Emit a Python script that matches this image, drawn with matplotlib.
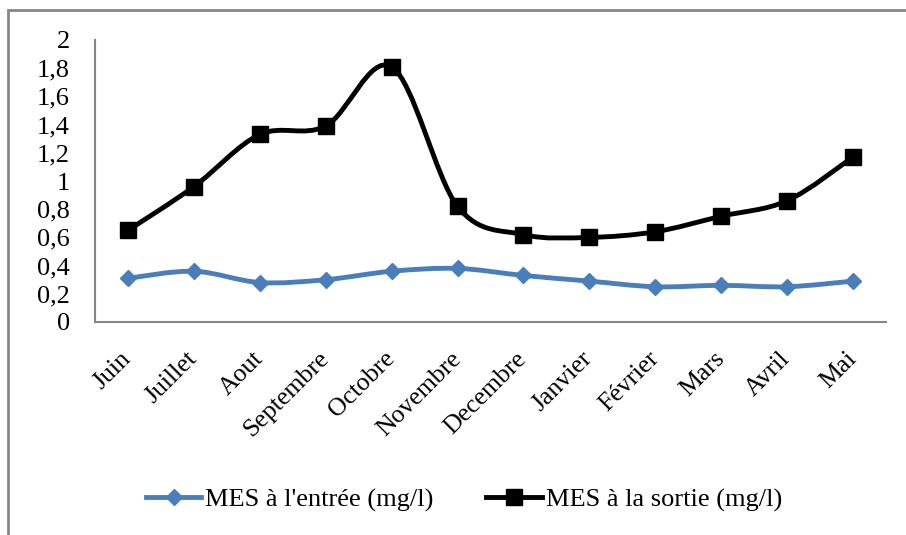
import matplotlib
matplotlib.use("Agg")
import matplotlib.pyplot as plt
from matplotlib.path import Path
from matplotlib.patches import PathPatch, Rectangle
from matplotlib.lines import Line2D

# Monthly values
months = ["Juin", "Juillet", "Aout", "Septembre", "Octobre", "Novembre",
          "Decembre", "Janvier", "Février", "Mars", "Avril", "Mai"]
mes_entree = [0.31, 0.36, 0.28, 0.30, 0.36, 0.38, 0.33, 0.29, 0.25, 0.26, 0.25, 0.29]
mes_sortie = [0.65, 0.96, 1.33, 1.39, 1.81, 0.82, 0.62, 0.60, 0.64, 0.75, 0.86, 1.17]
yticks = [0, 0.2, 0.4, 0.6, 0.8, 1, 1.2, 1.4, 1.6, 1.8, 2]

blue = "#4a7ebb"
grey = "#868686"

plt.rcParams["font.family"] = ["Liberation Serif", "DejaVu Serif"]


def smooth_path(xs, ys):
    # excel style smoothed line: bezier segments between the points
    pts = list(zip(xs, ys))
    n = len(pts)
    verts = [pts[0]]
    codes = [Path.MOVETO]
    for i in range(n - 1):
        p0 = pts[i - 1] if i > 0 else pts[i]
        p1 = pts[i]
        p2 = pts[i + 1]
        p3 = pts[i + 2] if i + 2 < n else pts[i + 1]
        c1 = (p1[0] + (p2[0] - p0[0]) / 6, p1[1] + (p2[1] - p0[1]) / 6)
        c2 = (p2[0] - (p3[0] - p1[0]) / 6, p2[1] - (p3[1] - p1[1]) / 6)
        verts += [c1, c2, p2]
        codes += [Path.CURVE4] * 3
    return Path(verts, codes)


fig = plt.figure(figsize=(9.06, 5.35), dpi=100)
ax = fig.add_axes([95 / 906, 213 / 535, 791 / 906, 282 / 535])

# chart frame (cut off on the right and bottom)
fig.patches.append(Rectangle((8 / 906, -0.1), 1.1, (525 / 535) + 0.1,
                             transform=fig.transFigure, fill=False,
                             edgecolor=grey, linewidth=2))

x = list(range(len(months)))

ax.add_patch(PathPatch(smooth_path(x, mes_entree), fill=False,
                       edgecolor=blue, linewidth=3.5, capstyle="round", zorder=3))
ax.plot(x, mes_entree, linestyle="none", marker="D", markersize=8,
        color=blue, zorder=4)

ax.add_patch(PathPatch(smooth_path(x, mes_sortie), fill=False,
                       edgecolor="black", linewidth=3.5, capstyle="round", zorder=3))
ax.plot(x, mes_sortie, linestyle="none", marker="s", markersize=11,
        color="black", zorder=4)

ax.set_xlim(-0.5, len(months) - 0.5)
ax.set_ylim(0, 2)
ax.set_yticks(yticks)
ax.set_yticklabels([("%g" % v).replace(".", ",") for v in yticks], fontsize=19)
ax.set_xticks(x)
ax.set_xticklabels(months, fontsize=18.5, rotation=45, ha="right",
                   va="center", rotation_mode="anchor")
ax.tick_params(axis="y", length=0, pad=18)
ax.tick_params(axis="x", length=0, pad=24)

for side in ["top", "right"]:
    ax.spines[side].set_visible(False)
for side in ["left", "bottom"]:
    ax.spines[side].set_color(grey)
    ax.spines[side].set_linewidth(1.5)

handles = [
    Line2D([], [], color=blue, linewidth=3.5, marker="D", markersize=8),
    Line2D([], [], color="black", linewidth=3.5, marker="s", markersize=11),
]
fig.legend(handles, ["MES à l'entrée (mg/l)", "MES à la sortie (mg/l)"],
           loc="center", bbox_to_anchor=(464 / 906, 1 - 500 / 535),
           ncol=2, frameon=False, fontsize=19, handlelength=2.1,
           handletextpad=0.15, columnspacing=2.0)

fig.savefig("out.png", dpi=100)
